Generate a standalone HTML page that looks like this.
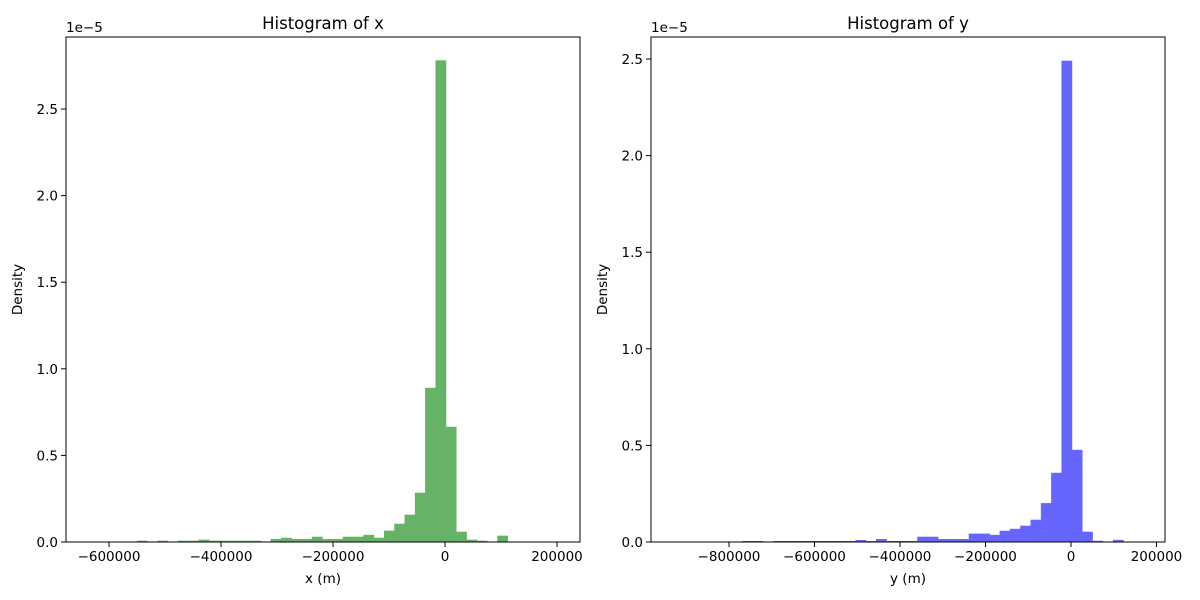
<!DOCTYPE html>
<html><head><meta charset="utf-8"><style>body{margin:0;background:#fff}svg{display:block;font-family:"DejaVu Sans","Liberation Sans",sans-serif}</style></head>
<body>
<svg id="chart" width="1200" height="600" xmlns="http://www.w3.org/2000/svg"></svg>
<script>
// Left (x) histogram data, density in units of 1e-5
const xBinMin = -623576;
const xBinWidth = 18393;
const xDensity = [0,0,0,0, 0.006,0, 0.006,0, 0.006,0.006, 0.012, 0.006,0.006,0.006,0.006,0.006, 0, 0.016, 0.023, 0.016,0.016, 0.029, 0.016,0.016, 0.029,0.029, 0.04, 0.023, 0.064, 0.104, 0.156, 0.283, 0.889, 2.78, 0.664, 0.058, 0.012, 0.006, 0, 0.035, 0,0,0,0,0];
const xTicks = [-600000,-400000,-200000,0,200000];
// Right (y) histogram data
const yBinMin = -913233;
const yBinWidth = 24094;
const yDensity = [0,0,0,0,0,0, 0.004,0.004, 0, 0.004,0.004,0.004,0.004,0.004,0.004,0.004,0.004, 0.009, 0.004, 0.014, 0.004,0.004,0.004, 0.026,0.026, 0.014,0.014,0.014, 0.042,0.042, 0.036, 0.057, 0.067, 0.083, 0.114, 0.2, 0.357, 2.49, 0.476, 0.052, 0.005, 0, 0.01, 0, 0];
const yTicks = [-800000,-600000,-400000,-200000,0,200000];
const densTicks = [0,0.5,1,1.5,2,2.5];

const svg = document.getElementById('chart');
const NS = 'http://www.w3.org/2000/svg';
function mk(tag, attrs, parent){const e=document.createElementNS(NS,tag);for(const k in attrs)e.setAttribute(k,attrs[k]);(parent||svg).appendChild(e);return e;}

function panel(cfg){
  const {L,R,T,B,xmin,xmax,ymax,binMin,binW,dens,ticks,color,title,xlabel,key}=cfg;
  const sx=v=>L+(v-xmin)/(xmax-xmin)*(R-L);
  const sy=v=>B-v/ymax*(B-T);
  const g=mk('g',{});
  
  
  dens.forEach((d,i)=>{
    if(d<=0) return;
    const x0=sx(binMin+i*binW), x1=sx(binMin+(i+1)*binW);
    const r=mk('rect',{x:x0,y:sy(d),width:x1-x0,height:B-sy(d),fill:color,stroke:color,'stroke-width':0.5},g);
    
    
  });
  const frame=mk('rect',{x:L,y:T,width:R-L,height:B-T,fill:'none',stroke:'#000','stroke-width':1},g);
  
  
  ticks.forEach(t=>{
    const x=sx(t);
    mk('line',{x1:x,x2:x,y1:B,y2:B+5,stroke:'#000'},g);
    const tx=mk('text',{x:x,y:B+19,'font-size':13.5,'text-anchor':'middle'},g);
    tx.textContent=(t<0?'\u2212':'')+Math.abs(t);
    
    
  });
  densTicks.forEach(t=>{
    const y=sy(t);
    mk('line',{x1:L-5,x2:L,y1:y,y2:y,stroke:'#000'},g);
    const tx=mk('text',{x:L-8,y:y+5,'font-size':13.5,'text-anchor':'end'},g);
    tx.textContent=t.toFixed(1);
    
    
  });
  const ti=mk('text',{x:(L+R)/2,y:T-8,'font-size':16.5,'text-anchor':'middle'},g);
  ti.textContent=title;
  
  
  const xl=mk('text',{x:(L+R)/2,y:B+41,'font-size':13.5,'text-anchor':'middle'},g);
  xl.textContent=xlabel;
  
  
  const yl=mk('text',{x:0,y:0,'font-size':13.5,'text-anchor':'middle',transform:`translate(${L-44},${(T+B)/2}) rotate(-90)`},g);
  yl.textContent='Density';
  
  
  const off=mk('text',{x:L,y:T-5,'font-size':13.5},g);
  off.textContent='1e\u22125';
  
  
}
panel({L:66,R:580,T:37,B:542,xmin:-676800,xmax:241071,ymax:2.916,binMin:xBinMin,binW:xBinWidth,dens:xDensity,ticks:xTicks,color:'#66b266',title:'Histogram of x',xlabel:'x (m)',key:'x'});
panel({L:651,R:1165,T:37,B:542,xmin:-982400,xmax:219900,ymax:2.614,binMin:yBinMin,binW:yBinWidth,dens:yDensity,ticks:yTicks,color:'#6666ff',title:'Histogram of y',xlabel:'y (m)',key:'y'});
</script>
</body></html>
